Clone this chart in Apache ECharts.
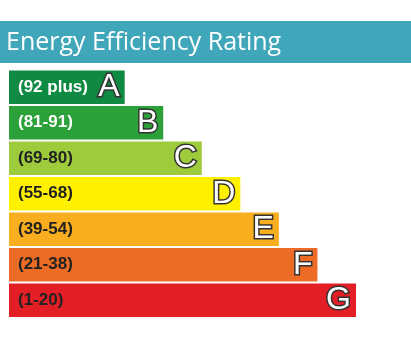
<!DOCTYPE html>
<html><head><meta charset="utf-8">
<script src="https://cdn.jsdelivr.net/npm/echarts@6/dist/echarts.min.js"></script>
<style>html,body{margin:0;padding:0;background:#fff}#c{width:411px;height:361px}</style>
</head><body><div id="c"></div>
<script>
var titleText = 'Energy Efficiency Rating';
var ratings = ['A', 'B', 'C', 'D', 'E', 'F', 'G'];
var ranges = ['(92 plus)', '(81-91)', '(69-80)', '(55-68)', '(39-54)', '(21-38)', '(1-20)'];
var lengths = [3, 4, 5, 6, 7, 8, 9];
var colors = ['#0f8a43', '#2ca13a', '#9dcb3c', '#fff100', '#f8ae1e', '#ec6b25', '#e31e25'];
var textColors = ['#ffffff', '#ffffff', '#222222', '#222222', '#222222', '#222222', '#222222'];

var chart = echarts.init(document.getElementById('c'), null, {renderer: 'canvas'});
chart.setOption({
  animation: false,
  graphic: [
    {type: 'rect', left: 0, top: 21, shape: {width: 411, height: 42}, style: {fill: '#3fa7b9'}, z: 0},
    {type: 'text', left: 6, top: 30, style: {text: titleText, fill: '#ffffff', font: '25px "Open Sans"'}, z: 1}
  ],
  grid: {left: 9, top: 69.5, width: 347, height: 248.5, containLabel: false},
  xAxis: {type: 'value', min: 0, max: 9, show: false},
  yAxis: {type: 'category', data: ratings, inverse: true, show: false},
  series: [
    {
      type: 'bar', barWidth: '94%',
      data: lengths.map(function (v, i) {
        return {value: v, itemStyle: {color: colors[i]},
          label: {color: textColors[i]}};
      }),
      label: {
        show: true, position: 'insideLeft', distance: 9,
        formatter: function (p) { return ranges[p.dataIndex]; },
        fontFamily: 'Liberation Sans, Arial', fontWeight: 'bold', fontSize: 17
      }
    },
    {
      type: 'bar', barWidth: '94%', barGap: '-100%',
      data: lengths,
      itemStyle: {color: 'rgba(0,0,0,0)'},
      label: {
        show: true, position: 'insideRight', distance: 5,
        formatter: function (p) { return ratings[p.dataIndex]; },
        fontFamily: 'Liberation Sans, Arial', fontSize: 32,
        color: '#ffffff', textBorderColor: '#333333', textBorderWidth: 3
      }
    }
  ]
});
</script></body></html>
